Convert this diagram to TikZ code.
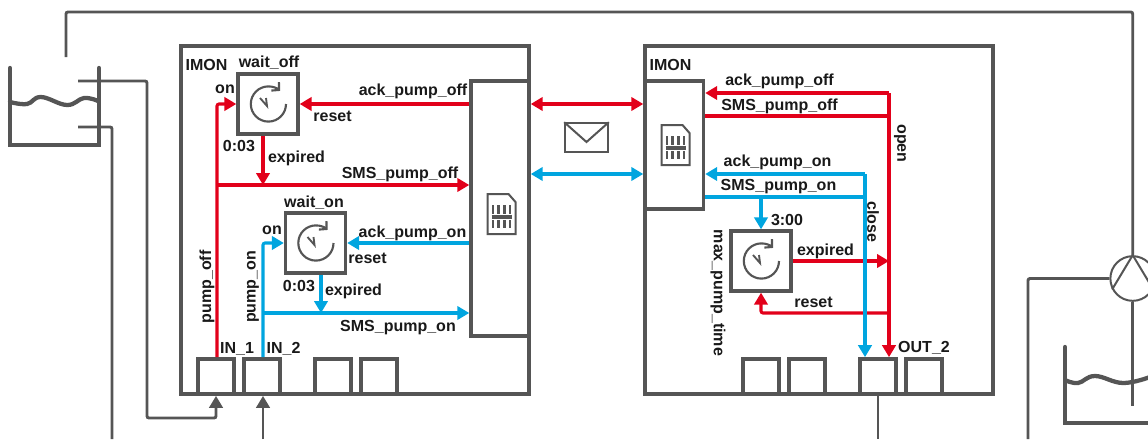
\documentclass[tikz,border=0pt]{standalone}
\usepackage{fontspec}
\setmainfont{Liberation Sans}
\usepackage{tikz}
\usetikzlibrary{arrows.meta, positioning, calc}
\definecolor{redsig}{HTML}{E2001A}
\definecolor{bluesig}{HTML}{00A5DF}
\definecolor{graypipe}{HTML}{555555}
\tikzset{
    sigtip/.tip={Triangle[length=9pt, width=10pt]},
    frame/.style={rectangle, draw=graypipe, line width=2.6pt, inner sep=0pt},
    imon/.style={frame, minimum width=261pt, minimum height=261pt},
    simbox/.style={frame, fill=white, minimum width=43.5pt},
    port/.style={rectangle, draw=graypipe, line width=2.5pt, inner sep=0pt, minimum width=27pt, minimum height=26.5pt},
    timer/.style={rectangle, draw=graypipe, line width=2.5pt, inner sep=0pt, minimum width=45pt, minimum height=45pt},
    lab/.style={inner sep=0pt, yshift=-0.7pt, text=black!90, font=\fontsize{12}{14}\selectfont\bfseries},
    pipe/.style={draw=graypipe, line width=2.2pt, rounded corners=1.5pt},
    tank/.style={draw=graypipe, line width=3.2pt, line cap=round},
    pipearrow/.style={pipe, -sigtip},
    redline/.style={draw=redsig, line width=2.3pt, rounded corners=1.5pt},
    blueline/.style={draw=bluesig, line width=2.3pt, rounded corners=1.5pt},
    redarrow/.style={redline, -sigtip},
    bluearrow/.style={blueline, -sigtip},
    reddouble/.style={redline, sigtip-sigtip},
    bluedouble/.style={blueline, sigtip-sigtip},
    clockface/.pic={
        \draw[graypipe, line width=1.6pt, -{Straight Barb[length=4pt, width=8.5pt]}] (18,0) arc[start angle=0, end angle=-312, radius=13.2pt];
        \draw[graypipe, line width=1.4pt] (-8,-6) -- (-1,2) -- (-2,-6);
    },
    simcard/.pic={
        \draw[graypipe, line width=1.5pt] (-14,-20) -- (7,-20) -- (14,-12) -- (14,20) -- (-14,20) -- cycle;
        \draw[graypipe, line width=2.6pt] (-10,3) -- (10,3);
        \draw[graypipe, line width=1.7pt] (-8.5,-9) -- (-8.5,0) (-3,-9) -- (-3,0) (3,-9) -- (3,0) (8.5,-9) -- (8.5,0);
        \draw[graypipe, line width=1.7pt] (-8.5,6) -- (-8.5,14) (-3,6) -- (-3,14) (3,6) -- (3,14) (8.5,6) -- (8.5,14);
    },
}
\begin{document}
\begin{tikzpicture}[x=0.75pt, y=-0.75pt]
    \useasboundingbox (0,0) rectangle (1148,439);
    \clip (0,0) rectangle (1148,439);

    % Frames
    \node[imon] (imonA) at (355,220) {};
    \node[imon] (imonB) at (819,220) {};
    \node[simbox, minimum height=191.5pt] (simA) at (500,208.5) {};
    \node[simbox, minimum height=96pt] (simB) at (674.5,145) {};
    \pic at (501.5,214) {simcard};
    \pic at (675.5,145) {simcard};

    % Ports
    \node[port] (inA) at (216,376.5) {};
    \node[port, right=5pt of inA] (inB) {};
    \node[port] (inC) at (333,376.5) {};
    \node[port, right=5pt of inC] (inD) {};
    \node[port] (outC) at (761,376.5) {};
    \node[port, right=5pt of outC] (outD) {};
    \node[port] (outA) at (878,376.5) {};
    \node[port, right=5pt of outA] (outB) {};

    % Timers
    \node[timer] (waitoff) at (268,104) {};
    \node[timer] (waiton) at (315.5,243) {};
    \node[timer] (maxtime) at (761,261) {};
    \pic at (268,104) {clockface};
    \pic at (315.5,243) {clockface};
    \pic at (761,261) {clockface};

    % Envelope
    \node[rectangle, draw=graypipe, line width=1.5pt, inner sep=0pt, minimum width=32pt, minimum height=21.5pt] (mail) at (586.5,137.5) {};
    \coordinate (mailtip) at (586.5,142);
    \draw[graypipe, line width=1.5pt] (mail.north west) -- (mailtip) -- (mail.north east);

    % Pump and tanks
    \node[circle, draw=graypipe, line width=1.5pt, fill=white, inner sep=0pt, minimum size=33.5pt] (pump) at (1132.7,278.5) {};
    \draw[graypipe, line width=1.5pt] (pump.208) -- (pump.north) -- (pump.332);
    \coordinate (tankAl) at (10,68);
    \coordinate (tankAb) at (10,145);
    \coordinate (tankAr) at (99,68);
    \draw[tank, line join=miter] (tankAl) -- (tankAb) -| (tankAr);
    \draw[tank] plot[smooth, tension=0.7] coordinates {(10,102) (27,104) (41,97) (67,105) (84,98) (98,101)};
    \coordinate (tankBl) at (1065,347);
    \coordinate (tankBb) at (1065,423);
    \coordinate (tankBr) at (1160,423);
    \draw[tank, line join=miter] (tankBl) -- (tankBb) -- (tankBr);
    \draw[tank] plot[smooth, tension=0.7] coordinates {(1065,380) (1078,383) (1095,376) (1123,383) (1150,377)};

    % Pipes
    \coordinate (ventA) at (66,57);
    \coordinate (topR) at (1132.7,12);
    \coordinate (inletA) at (78,81);
    \coordinate (loopA) at (147,418);
    \coordinate (inletB) at (78,127);
    \coordinate (endB) at (112,439);
    \coordinate (endC) at (263,439);
    \coordinate (endD) at (878,439);
    \coordinate (suction) at (1132.7,406);
    \coordinate (endE) at (1028,439);
    \draw[pipe] (ventA) |- (topR) -- (pump.north);
    \draw[pipearrow] (inletA) -| (loopA) -| (inA.south);
    \draw[pipe] (inletB) -| (endB);
    \draw[pipearrow] (endC) -- (endC |- inB.south);
    \draw[pipe] (outA.south) -- (endD);
    \draw[pipe] (pump.south) -- (suction);
    \draw[pipe] (pump.west) -| (endE);

    % Arrows left box, red
    \coordinate (joinA) at (217,185);
    \coordinate (joinAb) at (263,185);
    \draw[redarrow] (inA.north -| joinA) |- (waitoff.west);
    \draw[redarrow] (simA.west |- waitoff.east) -- (waitoff.east);
    \draw[redarrow] (waitoff.south -| joinAb) -- (joinAb);
    \draw[redarrow] (joinA) -- (simA.west |- joinA);

    % Arrows left box, blue
    \coordinate (joinB) at (263,313);
    \coordinate (joinBb) at (321,313);
    \draw[bluearrow] (inB.north -| joinB) |- (waiton.west);
    \draw[bluearrow] (simA.west |- waiton.east) -- (waiton.east);
    \draw[bluearrow] (waiton.south -| joinBb) -- (joinBb);
    \draw[bluearrow] (joinB) -- (simA.west |- joinB);

    % Arrows between boxes
    \coordinate (msgred) at (587,104);
    \coordinate (msgblue) at (587,174);
    \draw[reddouble] (imonA.east |- msgred) -- (imonB.west |- msgred);
    \draw[bluedouble] (imonA.east |- msgblue) -- (imonB.west |- msgblue);

    % Arrows right box, red
    \coordinate (ackoff) at (889,93);
    \coordinate (smsoff) at (889,116);
    \coordinate (joinC) at (889,261);
    \coordinate (joinD) at (889,313);
    \draw[redarrow] (ackoff) -- (simB.east |- ackoff);
    \draw[redarrow, rounded corners=0pt] (ackoff) -- (outA.north -| ackoff);
    \draw[redline] (simB.east |- smsoff) -- (smsoff);
    \draw[redarrow] (maxtime.east) -- (joinC);
    \draw[redarrow] (joinD) -| (maxtime.south);

    % Arrows right box, blue
    \coordinate (ackon) at (865,174);
    \coordinate (smson) at (865,197);
    \draw[bluearrow] (ackon) -- (simB.east |- ackon);
    \draw[bluearrow, rounded corners=0pt] (ackon) -- (outA.north -| ackon);
    \draw[blueline] (simB.east |- smson) -- (smson);
    \draw[bluearrow] (maxtime.north |- smson) -- (maxtime.north);

    % Labels
    \node[lab] (nameA) at (206.5,64) {IMON};
    \node[lab] (nameB) at (670.5,64) {IMON};
    \node[lab] (titleoff) at (269,62) {wait\_off};
    \node[lab] (titleon) at (314,202) {wait\_on};
    \node[lab] (onA) at (225,88) {on};
    \node[lab] (onB) at (272,229) {on};
    \node[lab] (ackoffA) at (413,90) {ack\_pump\_off};
    \node[lab] (resetA) at (332.5,115) {reset};
    \node[lab] (timeA) at (239,145) {0:03};
    \node[lab] (expiredA) at (296.5,157) {expired};
    \node[lab] (smsoffA) at (400,173) {SMS\_pump\_off};
    \node[lab] (ackonA) at (412.5,232) {ack\_pump\_on};
    \node[lab] (resetB) at (367.5,257) {reset};
    \node[lab] (timeB) at (299,285) {0:03};
    \node[lab] (expiredB) at (353.5,290) {expired};
    \node[lab] (smsonA) at (398,327) {SMS\_pump\_on};
    \node[lab, rotate=90] (pumpoff) at (207,286) {pump\_off};
    \node[lab, rotate=90] (pumpon) at (253,286) {pump\_on};
    \node[lab] (inlabA) at (237,348) {IN\_1};
    \node[lab] (inlabB) at (283.5,348) {IN\_2};
    \node[lab] (ackoffB) at (779.5,80) {ack\_pump\_off};
    \node[lab] (smsoffB) at (779.5,105) {SMS\_pump\_off};
    \node[lab] (ackonB) at (777.5,161) {ack\_pump\_on};
    \node[lab] (smsonB) at (778.5,186) {SMS\_pump\_on};
    \node[lab, rotate=-90] (open) at (900,142.5) {open};
    \node[lab, rotate=-90] (close) at (873,221) {close};
    \node[lab] (timeC) at (787,219) {3:00};
    \node[lab] (expiredC) at (825.5,250) {expired};
    \node[lab] (resetC) at (813.5,301) {reset};
    \node[lab, rotate=-90] (maxlab) at (718,292) {max\_pump\_time};
    \node[lab] (outlab) at (924,347) {OUT\_2};
\end{tikzpicture}
\end{document}
